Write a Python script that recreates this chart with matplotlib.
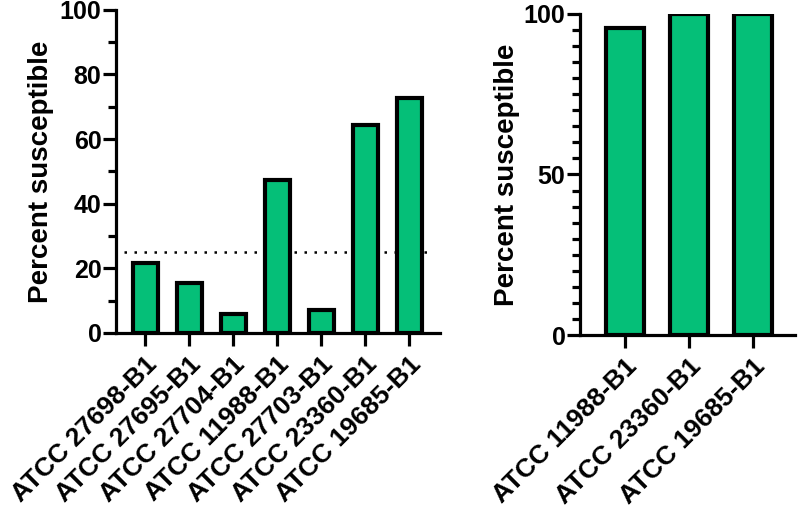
import matplotlib.pyplot as plt
from matplotlib.ticker import MultipleLocator

plt.rcParams['font.family'] = ['Liberation Sans', 'DejaVu Sans']
plt.rcParams['font.weight'] = 'bold'

# left panel
strains_all = ['ATCC 27698-B1', 'ATCC 27695-B1', 'ATCC 27704-B1', 'ATCC 11988-B1',
               'ATCC 27703-B1', 'ATCC 23360-B1', 'ATCC 19685-B1']
pct_all = [21.6, 15.6, 6.0, 47.2, 7.0, 64.3, 72.6]
cutoff = 25

# right panel
strains_sel = ['ATCC 11988-B1', 'ATCC 23360-B1', 'ATCC 19685-B1']
pct_sel = [95.6, 100, 100]

green = '#05BF78'
lw = 2.3

fig = plt.figure(figsize=(8, 5.17), dpi=100)
ax1 = fig.add_axes([0.145, 0.356, 0.405, 0.625])
ax2 = fig.add_axes([0.725, 0.352, 0.269, 0.621])


def style(ax, major, minor):
    for s in ['top', 'right']:
        ax.spines[s].set_visible(False)
    for s in ['left', 'bottom']:
        ax.spines[s].set_linewidth(lw)
    ax.yaxis.set_major_locator(MultipleLocator(major))
    ax.yaxis.set_minor_locator(MultipleLocator(minor))
    ax.tick_params(axis='y', which='major', length=9.5, width=lw, labelsize=18, pad=1)
    ax.tick_params(axis='y', which='minor', length=6, width=lw)
    ax.tick_params(axis='x', length=9, width=lw, labelsize=19, pad=5)
    ax.set_ylabel('Percent susceptible', fontsize=20, fontweight='bold')
    ax.set_ylim(0, 100)


x1 = range(len(strains_all))
ax1.plot([-0.48, 6.52], [cutoff, cutoff], color='black', lw=1.8,
         linestyle=(0, (1, 3)), zorder=1)
ax1.bar(x1, pct_all, width=0.57, color=green, edgecolor='black', linewidth=3, zorder=2)
ax1.set_xlim(-0.66, 6.7)
style(ax1, 20, 10)
ax1.set_xticks(list(x1))
ax1.set_xticklabels(strains_all, rotation=45, ha='right', rotation_mode='anchor')
ax1.yaxis.set_label_coords(-0.19, 0.5)

x2 = range(len(strains_sel))
ax2.bar(x2, pct_sel, width=0.6, color=green, edgecolor='black', linewidth=3, zorder=2)
ax2.set_xlim(-0.7, 2.66)
style(ax2, 50, 5)
ax2.set_xticks(list(x2))
ax2.set_xticklabels(strains_sel, rotation=45, ha='right', rotation_mode='anchor')
ax2.yaxis.set_label_coords(-0.28, 0.5)

for ax in (ax1, ax2):
    for lab in ax.get_xticklabels() + ax.get_yticklabels():
        lab.set_fontweight('bold')
    for sp in ax.spines.values():
        sp.set_zorder(5)

fig.savefig('out.png', dpi=100)
